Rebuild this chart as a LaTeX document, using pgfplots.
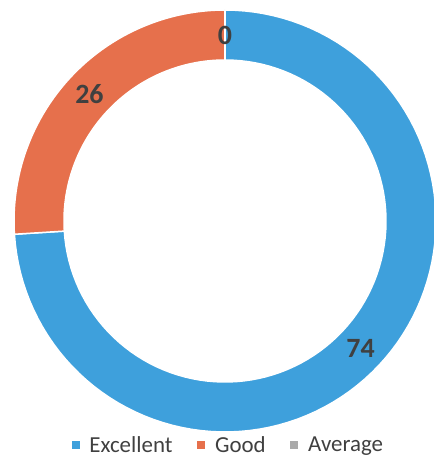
\documentclass[border=0pt]{standalone}
\usepackage{pgfplots}
\usepackage{pgfplotstable}
\pgfplotsset{compat=1.18}
\usepackage{fontspec}
\setmainfont{Carlito}

\definecolor{cExc}{RGB}{62,160,220}
\definecolor{cGood}{RGB}{230,112,76}
\definecolor{cAvg}{RGB}{170,170,170}
\definecolor{cLab}{RGB}{64,64,64}

\pgfplotstableread{
category value
Excellent 74
Good 26
Average 0
}\ratings

% ring geometry (axis units = px of the reference)
\def\cx{225}\def\cy{238}\def\Ro{211}\def\Ri{161}

% one slice of the doughnut: colour, start angle, end angle
\newcommand\ringslice[3]{%
  \addplot[fill=#1, draw=white, line width=1.5bp, variable=\t,
    samples at={0,1,...,100,200,201,...,300}]
   ({\cx+(\t<150?\Ro:\Ri)*cos(\t<150?(#2)+((#3)-(#2))*\t/100:(#3)+((#2)-(#3))*(\t-200)/100)},
    {\cy+(\t<150?\Ro:\Ri)*sin(\t<150?(#2)+((#3)-(#2))*\t/100:(#3)+((#2)-(#3))*(\t-200)/100)}) -- cycle;
}

\begin{document}
\begin{tikzpicture}
\pgfplotstablegetelem{0}{value}\of\ratings \let\vA\pgfplotsretval
\pgfplotstablegetelem{1}{value}\of\ratings \let\vB\pgfplotsretval
\pgfplotstablegetelem{2}{value}\of\ratings \let\vC\pgfplotsretval
\pgfmathsetmacro\tot{\vA+\vB+\vC}
% clockwise from the top
\pgfmathsetmacro\aA{90}
\pgfmathsetmacro\bA{\aA-\vA/\tot*360}
\pgfmathsetmacro\bB{\bA-\vB/\tot*360}
\pgfmathsetmacro\bC{\bB-\vC/\tot*360}
% label positions
\pgfmathsetmacro\Rm{(\Ro+\Ri)/2}
\pgfmathsetmacro\xA{\cx+\Rm*cos((\aA+\bA)/2)}
\pgfmathsetmacro\yA{\cy+\Rm*sin((\aA+\bA)/2)}
\pgfmathsetmacro\xB{\cx+\Rm*cos((\bA+\bB)/2)}
\pgfmathsetmacro\yB{\cy+\Rm*sin((\bA+\bB)/2)}
\pgfmathsetmacro\xC{\cx+\Rm*cos((\bB+\bC)/2)}
\pgfmathsetmacro\yC{\cy+\Rm*sin((\bB+\bC)/2)}
\begin{axis}[
    width=434bp, height=459bp,
    scale only axis,
    xmin=0, xmax=434, ymin=0, ymax=459,
    hide axis,
    legend columns=3,
    legend style={at={(axis cs:228,14)}, anchor=center, draw=none, fill=none,
        inner sep=0pt, font=\fontsize{23}{26}\selectfont, text=cLab,
        /tikz/every even column/.append style={column sep=22bp}},
    legend image code/.code={\fill[#1, draw=none] (0bp,-4bp) rectangle (8bp,4bp);
        \path (0bp,0bp) (15bp,0bp);},
    ]
    \ringslice{cExc}{\aA}{\bA}
    \addlegendentry{Excellent}
    \ringslice{cGood}{\bA}{\bB}
    \addlegendentry{Good}
    \ringslice{cAvg}{\bB}{\bC}
    \addlegendentry{Average}
    \node[text=cLab, font=\bfseries\fontsize{28}{30}\selectfont] at (axis cs:\xA,\yA) {\vA};
    \node[text=cLab, font=\bfseries\fontsize{28}{30}\selectfont] at (axis cs:\xB,\yB) {\vB};
    \node[text=cLab, font=\bfseries\fontsize{28}{30}\selectfont] at (axis cs:\xC,\yC) {\vC};
\end{axis}
\pgfresetboundingbox
\path[use as bounding box] (current axis.south west) rectangle (current axis.north east);
\end{tikzpicture}
\end{document}
